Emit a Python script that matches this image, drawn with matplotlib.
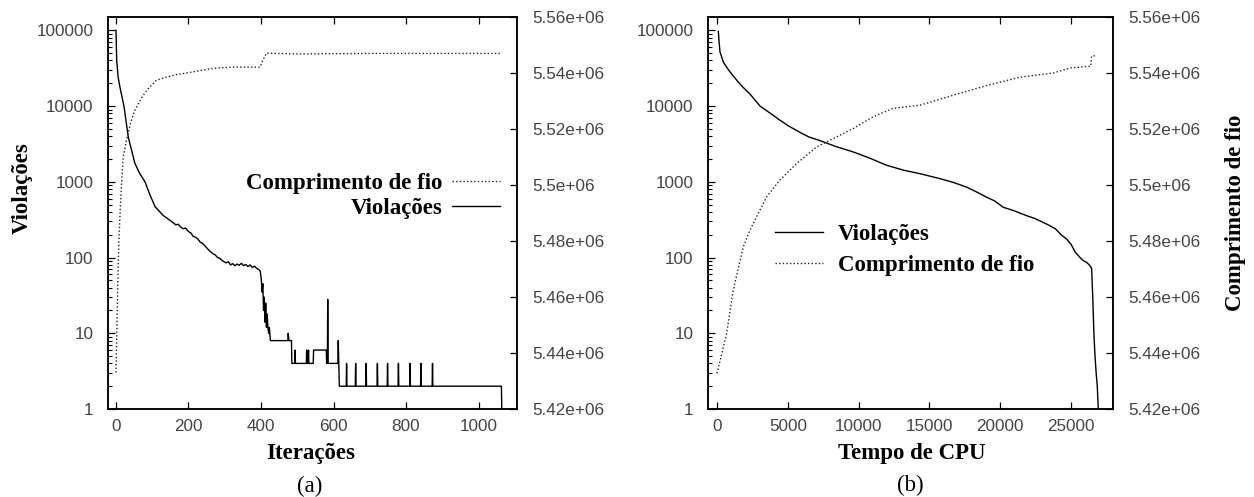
import matplotlib
matplotlib.use('Agg')
import matplotlib.pyplot as plt
from matplotlib.ticker import FixedLocator, FuncFormatter, LogLocator, NullFormatter

# (a) violations per iteration
it_x = [0, 2, 6, 11, 22, 34, 44, 52, 65, 80, 95, 108, 130, 158, 165, 172, 177, 185, 192, 200, 207,
        213, 220, 226, 232, 238, 244, 250, 256, 262, 268, 274, 280, 286, 292, 298, 304,
        310, 316, 322, 328, 334, 340, 346, 352, 358, 364, 370, 376, 382, 388, 393, 398,
        401, 403, 405, 407, 409, 411, 413, 415, 417, 419, 421, 423, 426, 474, 475, 477,
        484, 485, 493, 494, 495, 525, 526, 527, 530, 531, 532, 544, 545, 580, 581, 583,
        584, 585, 612, 613, 616, 635, 636, 637, 660, 661, 662, 689, 690, 691, 720, 721,
        722, 748, 749, 750, 778, 779, 780, 810, 811, 812, 840, 841, 842, 872, 873, 874,
        1063, 1064]
it_viol = [100000, 40000, 24000, 17700, 10000, 3870, 2500, 1760, 1300, 1000, 650, 468, 360, 288, 270, 275,
           257, 240, 245, 220, 210, 190, 185, 175, 160, 155, 145, 135, 125, 118, 112, 108,
           100, 98, 92, 88, 85, 88, 80, 83, 78, 82, 79, 84, 78, 81, 76, 80, 74, 77, 72, 70,
           66, 50, 35, 45, 20, 30, 14, 25, 12, 18, 12, 10, 12, 8, 8, 10, 8,
           8, 4, 4, 6, 4, 4, 6, 4, 4, 6, 4, 4, 6, 6, 4, 4,
           28, 4, 4, 8, 2, 2, 4, 2, 2, 4, 2, 2, 4, 2, 2, 4,
           2, 2, 4, 2, 2, 4, 2, 2, 4, 2, 2, 4, 2, 2, 4, 2,
           2, 1]

# (a) wire length per iteration
it_wx = [0, 2, 5, 8, 12, 16, 20, 29, 40, 52, 70, 85, 112, 158, 195, 268, 323, 397, 403,
         415, 500, 700, 900, 1064]
it_wire = [5.4330e6, 5.4450e6, 5.4650e6, 5.4800e6, 5.4920e6, 5.5020e6, 5.5100e6, 5.5160e6,
           5.5220e6, 5.5267e6, 5.5310e6, 5.5339e6, 5.5375e6, 5.5392e6, 5.5400e6, 5.5417e6,
           5.5421e6, 5.5421e6, 5.5440e6, 5.5471e6, 5.5468e6, 5.5470e6, 5.5470e6, 5.5470e6]

# (b) violations vs CPU time
cpu_x = [95, 150, 212, 450, 685, 1000, 1390, 1800, 2330, 3040, 3700, 4450, 5100, 5860, 6500,
         7270, 8450, 9620, 10800, 11990, 13200, 14340, 15750, 16700, 17630, 18300, 19040,
         19600, 20220, 20900, 21870, 22500, 23280, 23900, 24300, 24700, 25000, 25300,
         25640, 25850, 26110, 26300, 26460, 26540, 26620, 26700, 26780, 26860, 26930]
cpu_viol = [97000, 70000, 52000, 38000, 32500, 27000, 22000, 18000, 14400, 10000, 8200, 6500,
            5400, 4500, 3900, 3500, 2900, 2480, 2050, 1650, 1420, 1280, 1100, 980, 850,
            740, 627, 560, 461, 420, 357, 325, 277, 240, 200, 175, 150, 118, 100, 92, 86,
            80, 72, 30, 10, 5, 3, 2, 1]

# (b) wire length vs CPU time
cpu_wx = [0, 685, 1150, 1860, 2330, 2800, 3510, 4450, 5630, 7040, 8450, 9630, 11040,
          12450, 14340, 15520, 16700, 19040, 21400, 23760, 24940, 26340, 26400, 26460, 26700]
cpu_wire = [5.4327e6, 5.4471e6, 5.4625e6, 5.4780e6, 5.4839e6, 5.4887e6, 5.4958e6,
            5.5018e6, 5.5077e6, 5.5136e6, 5.5172e6, 5.5202e6, 5.5244e6, 5.5274e6,
            5.5285e6, 5.5303e6, 5.5321e6, 5.5355e6, 5.5385e6, 5.5400e6, 5.5418e6,
            5.5424e6, 5.5424e6, 5.5460e6, 5.5462e6]

viol_ticks = [1, 10, 100, 1000, 10000, 100000]
wire_ticks = [5.42e6, 5.44e6, 5.46e6, 5.48e6, 5.50e6, 5.52e6, 5.54e6, 5.56e6]
xticks_a = [0, 200, 400, 600, 800, 1000]
xticks_b = [0, 5000, 10000, 15000, 20000, 25000]

serif = 'Liberation Serif'
sans = 'Liberation Sans'
lab_fs = 16.5
tick_fs = 12.3

fig = plt.figure(figsize=(12.54, 4.97), dpi=100)
W, H = 1254, 497


def setup(ax, ax2, xticks, xlim):
    ax.set_yscale('log')
    ax.set_ylim(1, 1.5e5)
    ax.set_xlim(*xlim)
    ax.yaxis.set_major_locator(FixedLocator(viol_ticks))
    ax.yaxis.set_major_formatter(FuncFormatter(lambda v, p: '%d' % v))
    ax.yaxis.set_minor_locator(LogLocator(base=10, subs=range(2, 10)))
    ax.yaxis.set_minor_formatter(NullFormatter())
    ax.set_xticks(xticks)
    ax2.set_ylim(5.42e6, 5.56e6)
    ax2.set_yticks(wire_ticks)
    ax2.yaxis.set_major_formatter(FuncFormatter(lambda v, p: '%g' % v))
    ax.tick_params(axis='both', which='major', direction='in', length=5, width=0.9,
                   top=True, labelsize=tick_fs, labelcolor='#444444')
    ax.tick_params(axis='y', which='minor', direction='in', length=3, width=0.8)
    ax.tick_params(axis='x', pad=7)
    ax.tick_params(axis='y', pad=10.5)
    ax2.tick_params(axis='y', direction='in', length=5, width=0.9, pad=11,
                    labelsize=tick_fs, labelcolor='#444444')
    for a in (ax, ax2):
        for s in a.spines.values():
            s.set_linewidth(1.1)
    for lbl in ax.get_xticklabels() + ax.get_yticklabels() + ax2.get_yticklabels():
        lbl.set_fontfamily(sans)


# panel (a)
ax_a = fig.add_axes([108 / W, 1 - 409 / H, 409 / W, 392 / H])
ax_a2 = ax_a.twinx()
setup(ax_a, ax_a2, xticks_a, (-22, 1106))
la, = ax_a.plot(it_x, it_viol, color='black', lw=1.0, label='Violações')
lw_a, = ax_a2.plot(it_wx, it_wire, color='#222222', lw=1.0, ls=(0, (1, 1.6)),
                   label='Comprimento de fio')
ax_a2.legend(handles=[lw_a, la], loc='center right', bbox_to_anchor=(500 / W, 1 - 196 / H),
             bbox_transform=fig.transFigure, frameon=False, markerfirst=False,
             prop={'family': serif, 'weight': 'bold', 'size': lab_fs},
             handlelength=2.1, handletextpad=0.4, labelspacing=0.2,
             borderpad=0, borderaxespad=0)

# panel (b)
ax_b = fig.add_axes([708 / W, 1 - 409 / H, 405 / W, 392 / H])
ax_b2 = ax_b.twinx()
setup(ax_b, ax_b2, xticks_b, (-635, 27970))
lb, = ax_b.plot(cpu_x, cpu_viol, color='black', lw=1.0, label='Violações')
lw_b, = ax_b2.plot(cpu_wx, cpu_wire, color='#222222', lw=1.0, ls=(0, (1, 1.6)),
                   label='Comprimento de fio')
ax_b2.legend(handles=[lb, lw_b], loc='center left', bbox_to_anchor=(775 / W, 1 - 250 / H),
             bbox_transform=fig.transFigure, frameon=False,
             prop={'family': serif, 'weight': 'bold', 'size': lab_fs},
             handlelength=2.1, handletextpad=0.65, labelspacing=0.45,
             borderpad=0, borderaxespad=0)

# axis titles and captions
txt = dict(family=serif, fontsize=lab_fs, ha='center', va='center')
fig.text(22 / W, 1 - 188 / H, 'Violações', rotation=90, fontweight='bold', **txt)
fig.text(311 / W, 1 - 454 / H, 'Iterações', fontweight='bold', **txt)
fig.text(310 / W, 1 - 486 / H, '(a)', **txt)
fig.text(912 / W, 1 - 454 / H, 'Tempo de CPU', fontweight='bold', **txt)
fig.text(910 / W, 1 - 485 / H, '(b)', **txt)
fig.text(1236 / W, 1 - 213 / H, 'Comprimento de fio', rotation=90, fontweight='bold', **txt)

fig.savefig('out.png', dpi=100)
